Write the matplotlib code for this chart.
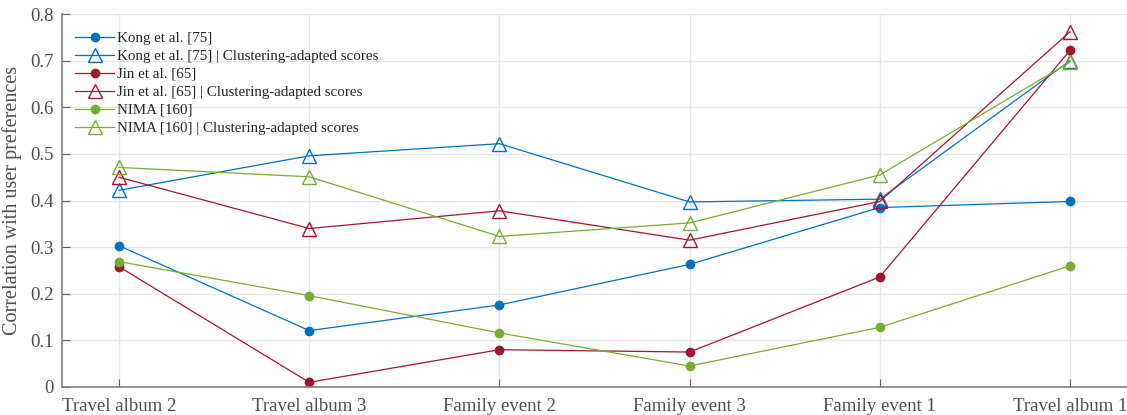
import numpy as np
import matplotlib.pyplot as plt

categories = ['Travel album 2', 'Travel album 3', 'Family event 2',
              'Family event 3', 'Family event 1', 'Travel album 1']

kong = [0.303, 0.121, 0.176, 0.263, 0.385, 0.398]
kong_adapted = [0.422, 0.496, 0.522, 0.397, 0.403, 0.700]
jin = [0.258, 0.010, 0.080, 0.075, 0.236, 0.722]
jin_adapted = [0.450, 0.340, 0.378, 0.315, 0.398, 0.762]
nima = [0.269, 0.196, 0.116, 0.045, 0.128, 0.260]
nima_adapted = [0.471, 0.451, 0.323, 0.352, 0.455, 0.697]

plt.rcParams['font.family'] = ['Liberation Serif', 'DejaVu Serif']
txt = '#4d4d4d'

fig = plt.figure(figsize=(11.27, 4.15), dpi=100)
ax = fig.add_axes([0.055, 0.0675, 0.945, 0.8985])

x = np.arange(len(categories))
blue, red, green = '#0072BD', '#A2142F', '#77AC30'

series = [
    (kong, 'Kong et al. [75]', blue, 'o'),
    (kong_adapted, 'Kong et al. [75] | Clustering-adapted scores', blue, '^'),
    (jin, 'Jin et al. [65]', red, 'o'),
    (jin_adapted, 'Jin et al. [65] | Clustering-adapted scores', red, '^'),
    (nima, 'NIMA [160]', green, 'o'),
    (nima_adapted, 'NIMA [160] | Clustering-adapted scores', green, '^'),
]
for vals, lab, col, m in series:
    if m == 'o':
        ax.plot(x, vals, color=col, lw=0.9, marker='o', ms=6, label=lab)
    else:
        ax.plot(x, vals, color=col, lw=0.9, marker='^', ms=10,
                mfc='none', mec=col, mew=1.0, label=lab)

ax.set_xlim(-0.3, 5.3)
ax.set_ylim(0, 0.8)
ax.set_xticks(x)
ax.set_xticklabels(categories)
ax.set_yticks(np.arange(0, 0.81, 0.1))
ax.set_yticklabels(['0'] + ['%.1f' % v for v in np.arange(0.1, 0.81, 0.1)])
ax.grid(True, color='#e6e6e6', lw=1)
ax.set_axisbelow(True)
for s in ['top', 'right']:
    ax.spines[s].set_visible(False)
for s in ['left', 'bottom']:
    ax.spines[s].set_color('#808080')
    ax.spines[s].set_linewidth(1.2)
ax.tick_params(direction='in', length=6, color='#606060', labelsize=13.5,
               labelcolor=txt)
ax.tick_params(axis='x', pad=8)
ax.tick_params(axis='y', pad=6)
ax.set_ylabel('Correlation with user preferences', fontsize=14.5, color=txt,
              labelpad=6)

ax.legend(loc='upper left', frameon=False, fontsize=10.8,
          bbox_to_anchor=(0.0, 0.99), handlelength=2.6, labelspacing=0.3,
          handletextpad=0.2, labelcolor='#222222')

fig.savefig('out.png', dpi=100)
